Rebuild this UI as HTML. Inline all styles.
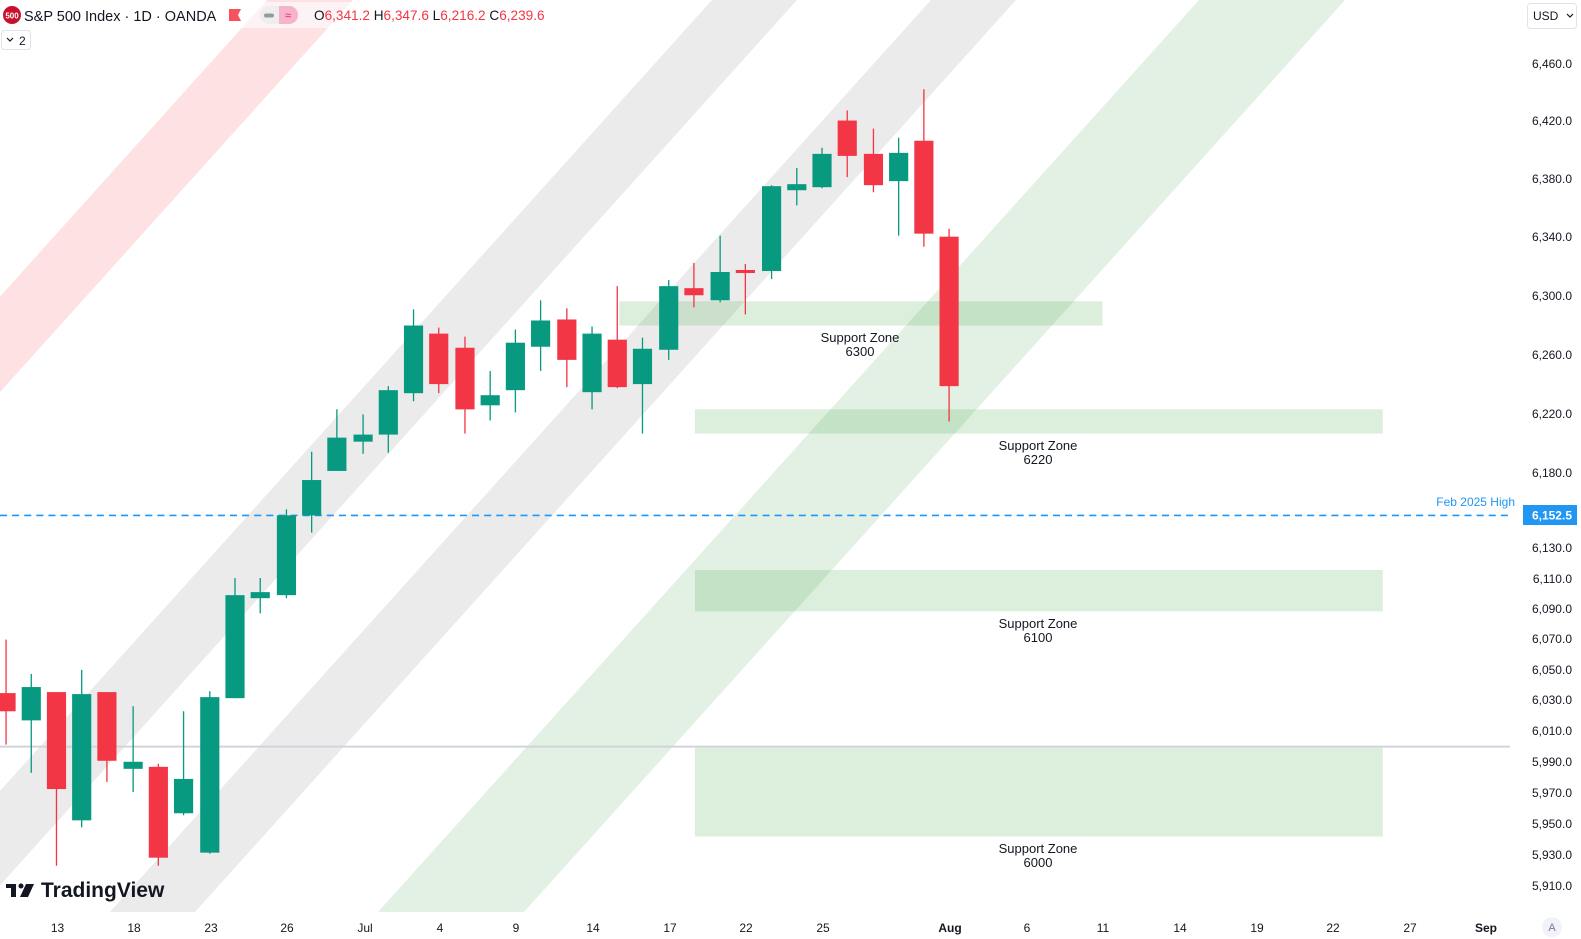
<!DOCTYPE html>
<html><head><meta charset="utf-8"><style>
html,body{margin:0;padding:0;background:#fff;}
body{width:1581px;height:939px;overflow:hidden;position:relative;font-family:"Liberation Sans",sans-serif;}
svg{position:absolute;left:0;top:0;}
</style></head><body>
<svg width="1581" height="939" xmlns="http://www.w3.org/2000/svg" font-family="Liberation Sans, sans-serif">
<defs><clipPath id="c"><rect x="0" y="0" width="1510" height="912"/></clipPath></defs>
<g clip-path="url(#c)">
<polygon points="267,0 353,0 -468,912 -554,912" fill="#fde1e3"/>
<polygon points="712,0 797,0 -24,912 -109,912" fill="#ebebeb"/>
<polygon points="931,0 1016,0 195,912 110,912" fill="#ebebeb"/>
<polygon points="1199,0 1345,0 524,912 378,912" fill="#e3f1e4"/>
</g>
<g transform="translate(0,64) scale(1.0086,1.0098) translate(0,-64)">
<rect x="614" y="299" width="479" height="24" fill="rgba(76,175,80,0.2)"/>
<rect x="689" y="406" width="682" height="24" fill="rgba(76,175,80,0.2)"/>
<rect x="689" y="565" width="682" height="41" fill="rgba(76,175,80,0.2)"/>
<rect x="689" y="741" width="682" height="88" fill="rgba(76,175,80,0.2)"/>
<line x1="0" y1="740" x2="1497" y2="740" stroke="#d1d4dc" stroke-width="2"/>
<line x1="0" y1="511" x2="1497" y2="511" stroke="#2196f3" stroke-width="1.6" stroke-dasharray="7,5"/>
<g id="candles"></g>
</g>
<g font-size="13" fill="#131722" text-anchor="middle">
<text x="860" y="342">Support Zone</text><text x="860" y="356">6300</text>
<text x="1038" y="450">Support Zone</text><text x="1038" y="464">6220</text>
<text x="1038" y="628">Support Zone</text><text x="1038" y="642">6100</text>
<text x="1038" y="853">Support Zone</text><text x="1038" y="867">6000</text>
</g>
<!-- price axis -->
<g font-size="12" fill="#131722" text-anchor="end">
<text x="1572" y="68">6,460.0</text><text x="1572" y="125">6,420.0</text><text x="1572" y="183">6,380.0</text>
<text x="1572" y="241">6,340.0</text><text x="1572" y="300">6,300.0</text><text x="1572" y="359">6,260.0</text>
<text x="1572" y="418">6,220.0</text><text x="1572" y="477">6,180.0</text><text x="1572" y="552">6,130.0</text>
<text x="1572" y="583">6,110.0</text><text x="1572" y="613">6,090.0</text><text x="1572" y="643">6,070.0</text>
<text x="1572" y="674">6,050.0</text><text x="1572" y="704">6,030.0</text><text x="1572" y="735">6,010.0</text>
<text x="1572" y="766">5,990.0</text><text x="1572" y="797">5,970.0</text><text x="1572" y="828">5,950.0</text>
<text x="1572" y="859">5,930.0</text><text x="1572" y="890">5,910.0</text>
</g>
<rect x="1523" y="505" width="54" height="20" fill="#2196f3"/>
<text x="1572" y="519.5" font-size="12" fill="#fff" text-anchor="end" font-weight="bold">6,152.5</text>
<text x="1515" y="506" font-size="12" fill="#2196f3" text-anchor="end">Feb 2025 High</text>
<rect x="1527.5" y="3.5" width="49" height="25" rx="3" fill="#fff" stroke="#e0e3eb"/>
<text x="1533" y="20" font-size="12" fill="#131722">USD</text>
<path d="M1567 14 l3 3 l3 -3" stroke="#131722" fill="none" stroke-width="1.2"/>
<circle cx="1552" cy="927" r="10" fill="#f0f3fa"/><text x="1552" y="931" font-size="11" fill="#787b86" text-anchor="middle">A</text>
<!-- time axis -->
<g font-size="12" fill="#131722" text-anchor="middle">
<text x="57.5" y="932">13</text><text x="134" y="932">18</text><text x="211" y="932">23</text><text x="287" y="932">26</text>
<text x="365" y="932">Jul</text><text x="440" y="932">4</text><text x="516" y="932">9</text><text x="593" y="932">14</text>
<text x="670" y="932">17</text><text x="746" y="932">22</text><text x="823" y="932">25</text><text x="950" y="932" font-weight="bold">Aug</text>
<text x="1027" y="932">6</text><text x="1103" y="932">11</text><text x="1180" y="932">14</text><text x="1257" y="932">19</text>
<text x="1333" y="932">22</text><text x="1410" y="932">27</text><text x="1486" y="932" font-weight="bold">Sep</text>
</g>
<!-- TradingView logo -->
<g fill="#131722">
<rect x="6" y="884" width="10" height="4"/><rect x="11" y="884" width="5" height="13"/>
<circle cx="21" cy="886" r="2.5"/><polygon points="26,884 34,884 28,897 20,897"/>
<text x="41" y="897" font-size="21" font-weight="bold">TradingView</text>
</g>
<!-- header -->
<rect x="0" y="2" width="560" height="26" fill="rgba(255,255,255,0.6)"/>
<circle cx="12" cy="15" r="9" fill="#c8102e"/>
<text x="12" y="18.5" font-size="8" fill="#fff" text-anchor="middle" font-weight="bold">500</text>
<text x="24" y="21" font-size="14.5" fill="#131722">S&amp;P 500 Index · 1D · OANDA</text>
<path d="M229 9 h12 l-3 6 l3 6 h-12z" fill="#f7525f"/>
<rect x="260" y="6" width="38" height="18" rx="9" fill="#eee"/>
<rect x="279" y="6" width="19" height="18" rx="9" fill="#f7b3cb"/><rect x="279" y="6" width="9" height="18" fill="#f7b3cb"/>
<rect x="264" y="13.5" width="10" height="4" rx="2" fill="#999"/>
<text x="288" y="19" font-size="11" fill="#e91e63" text-anchor="middle">≈</text>
<text x="314" y="20" font-size="13.6" fill="#131722">O<tspan fill="#f23645">6,341.2</tspan> H<tspan fill="#f23645">6,347.6</tspan> L<tspan fill="#f23645">6,216.2</tspan> C<tspan fill="#f23645">6,239.6</tspan></text>
<rect x="1.5" y="30.5" width="29" height="19" rx="3" fill="#fff" stroke="#e0e3eb"/>
<path d="M7 38 l3 3 l3 -3" stroke="#131722" fill="none" stroke-width="1.2"/>
<text x="19" y="45" font-size="12" fill="#131722">2</text>
</svg>
<script>
var G="#089981",R="#f23645";
var d=[[6,687,705,634,738,R],[31,681,714,668,766,G],[56,686,782,686,858,R],[81,688,813,664,820,G],[106,686,754,686,775,R],[132,755,762,700,785,G],[157,760,850,757,858,R],[182,772,806,705,808,G],[208,691,845,685,846,G],[233,590,692,573,692,G],[258,587,593,573,608,G],[284,511,590,505,593,G],[309,476,511,448,528,G],[334,434,467,406,467,G],[360,431,438,411,450,G],[385,387,431,383,449,G],[410,323,390,307,398,G],[435,331,381,325,390,R],[461,345,406,334,430,R],[486,392,402,368,417,G],[511,340,387,327,409,G],[536,318,344,298,368,G],[562,317,357,306,384,R],[587,331,389,324,406,G],[612,337,384,284,385,R],[637,346,381,335,430,G],[663,284,347,278,357,G],[688,286,293,261,305,R],[714,270,298,234,300,G],[739,268,271,262,312,R],[765,185,269,184,277,G],[790,183,189,167,204,G],[815,153,186,147,187,G],[840,120,155,110,176,R],[866,153,184,128,191,R],[891,152,180,137,234,G],[916,140,232,89,245,R],[941,235,383,227,418,R]];
var s="";d.forEach(function(c){s+='<line x1="'+c[0]+'" x2="'+c[0]+'" y1="'+c[3]+'" y2="'+c[4]+'" stroke="'+c[5]+'" stroke-width="1.3"/>';s+='<rect x="'+(c[0]-9.5)+'" y="'+c[1]+'" width="19" height="'+Math.max(2,c[2]-c[1])+'" fill="'+c[5]+'"/>';});
document.getElementById("candles").innerHTML=s;
</script>
</body></html>
